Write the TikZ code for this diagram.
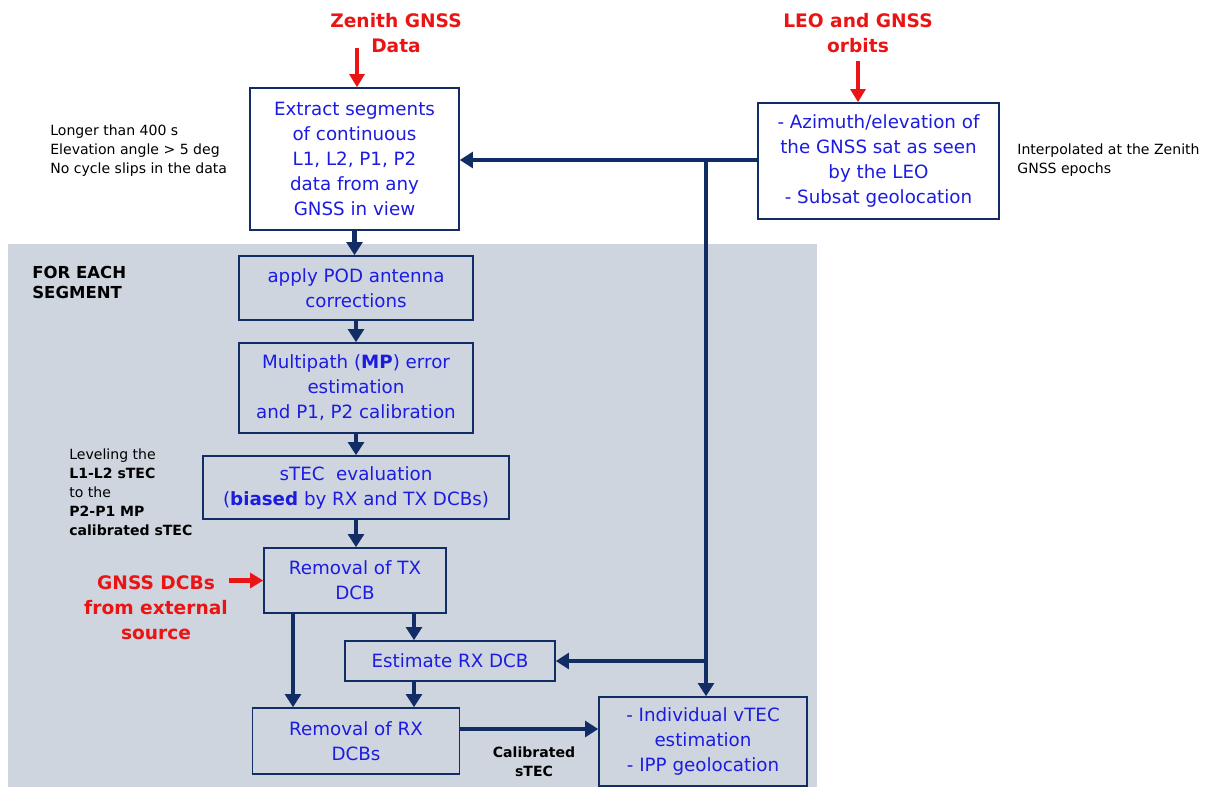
\documentclass[tikz,border=0pt]{standalone}
\usepackage{fontspec}
\setmainfont{DejaVu Sans}
\usetikzlibrary{arrows.meta}
\definecolor{navy}{RGB}{18,44,102}
\definecolor{bluetxt}{RGB}{28,28,225}
\definecolor{redtxt}{RGB}{235,20,20}
\definecolor{panel}{RGB}{206,213,222}
\begin{document}
\begin{tikzpicture}[x=0.02cm,y=-0.02cm,
  procbox/.style={draw=navy, line width=0.9pt, text=bluetxt, align=center, inner sep=0pt,
    font=\fontsize{10.4}{14.2}\selectfont},
  whitebox/.style={procbox, fill=white},
  flow/.style={draw=navy, line width=2.8pt, -{Triangle[width=9pt,length=7.5pt]}},
  redflow/.style={draw=redtxt, line width=2.3pt, -{Triangle[width=8.5pt,length=7.5pt]}},
  redlabel/.style={text=redtxt, align=center, inner sep=0pt, font=\fontsize{10.6}{14.2}\selectfont\bfseries},
  note/.style={text=black, align=left, inner sep=0pt, font=\fontsize{8}{10.8}\selectfont},
  bnote/.style={text=black, align=center, inner sep=0pt, font=\fontsize{8}{10.8}\selectfont\bfseries},
  headnote/.style={text=black, align=left, inner sep=0pt, font=\fontsize{9.4}{11.9}\selectfont\bfseries}]
\useasboundingbox (0,0) rectangle (1206,787);
\fill[panel] (8,244) rectangle (817,787);

% boxes
\node[whitebox, minimum width=4.18cm, minimum height=2.84cm] (ext) at (354.5,159)
  {Extract segments\\of continuous\\L1, L2, P1, P2\\data from any\\GNSS in view};
\node[whitebox, minimum width=4.82cm, minimum height=2.32cm] (leo) at (878.5,161)
  {- Azimuth/elevation of\\the GNSS sat as seen\\by the LEO\\- Subsat geolocation};
\node[procbox, minimum width=4.68cm, minimum height=1.28cm] (pod) at (356,288)
  {apply POD antenna\\corrections};
\node[procbox, minimum width=4.68cm, minimum height=1.80cm] (mp) at (356,388)
  {Multipath (\textbf{MP}) error\\estimation\\and P1, P2 calibration};
\node[procbox, minimum width=6.12cm, minimum height=1.26cm] (stec) at (356,487.5)
  {sTEC~ evaluation\\(\textbf{biased} by RX and TX DCBs)};
\node[procbox, minimum width=3.64cm, minimum height=1.30cm] (rtx) at (355,580.5)
  {Removal of TX\\DCB};
\node[procbox, minimum width=4.20cm, minimum height=0.80cm] (erx) at (450,661)
  {Estimate RX DCB};
\node[procbox, minimum width=4.14cm, minimum height=1.32cm] (rrx) at (356,741)
  {Removal of RX\\DCBs};
\node[procbox, minimum width=4.16cm, minimum height=1.78cm] (vtec) at (703,741.5)
  {- Individual vTEC\\estimation\\- IPP geolocation};

% labels
\node[redlabel] (zen) at (396,33) {Zenith GNSS\\Data};
\node[redlabel] (orb) at (858,33) {LEO and GNSS\\orbits};
\node[redlabel] (dcbs) at (156,608) {GNSS DCBs\\from external\\source};
\node[note, anchor=west] (n1) at (50,150.5) {Longer than 400 s\\Elevation angle > 5 deg\\No cycle slips in the data};
\node[note, anchor=west] (n2) at (1017,160.5) {Interpolated at the Zenith\\GNSS epochs};
\node[note, anchor=west] (n3) at (69,492.5) {Leveling the\\\textbf{L1-L2 sTEC}\\to the\\\textbf{P2-P1 MP}\\\textbf{calibrated sTEC}};
\node[headnote, anchor=west] (fe) at (32,282.5) {FOR EACH\\SEGMENT};
\node[bnote] (cal) at (534,761.5) {Calibrated\\sTEC};

% helper coordinates
\coordinate (zx) at (357,48);
\coordinate (ox) at (858,61);
\coordinate (dx) at (229,580.5);
\coordinate (j1) at (706,160);
\coordinate (c1) at (414,0);
\coordinate (c2) at (293,0);
\coordinate (c3) at (0,729);

% red arrows
\draw[redflow] (zx) -- (zx |- ext.north);
\draw[redflow] (ox) -- (ox |- leo.north);
\draw[redflow] (dx) -- (dx -| rtx.west);

% navy flow
\draw[flow] (leo.west |- j1) -- (ext.east |- j1);
\draw[flow] (j1) -- (j1 |- vtec.north);
\draw[flow] (j1 |- erx.east) -- (erx.east);
\draw[flow] (ext.south) -- (ext.south |- pod.north);
\draw[flow] (pod.south) -- (mp.north);
\draw[flow] (mp.south) -- (stec.north);
\draw[flow] (stec.south) -- (stec.south |- rtx.north);
\draw[flow] (rtx.south -| c1) -- (erx.north -| c1);
\draw[flow] (rtx.south -| c2) -- (rrx.north -| c2);
\draw[flow] (erx.south -| c1) -- (rrx.north -| c1);
\draw[flow] (rrx.east |- c3) -- (vtec.west |- c3);
\end{tikzpicture}
\end{document}
